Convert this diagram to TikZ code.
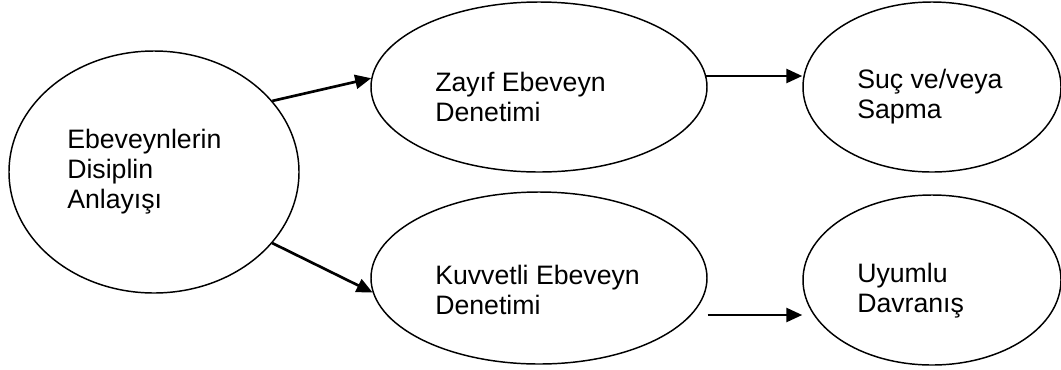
\documentclass[tikz,border=0pt]{standalone}
\usepackage{fontspec}
\setmainfont{Liberation Sans}
\usetikzlibrary{shapes.geometric,arrows.meta,calc}
\begin{document}
\begin{tikzpicture}[x = 0.75pt, y = -0.75pt,
    oval/.style = {ellipse, draw, line width = 1.1pt, inner sep = 0},
    txt/.style = {anchor = west, align = left, inner sep = 0, font = \fontsize{20}{22.5}\selectfont},
    arr/.style = {-{Triangle[length = 12pt, width = 10.5pt]}, line width = 2pt}]

        \useasboundingbox (0, 0) rectangle (1061, 369);

        \node (dis) at (154, 172) [oval, minimum width = 217.5pt, minimum height = 181.5pt] {};
        \node (zay) at (539, 87) [oval, minimum width = 252pt, minimum height = 127.5pt] {};
        \node (suc) at (932, 87) [oval, minimum width = 193.5pt, minimum height = 127.5pt] {};
        \node (kuv) at (539, 278) [oval, minimum width = 252pt, minimum height = 129pt] {};
        \node (uyu) at (932, 280) [oval, minimum width = 193.5pt, minimum height = 127.5pt] {};

        \node (dist) at (67, 172) [txt] {Ebeveynlerin\\Disiplin\\Anlayışı};
        \node (zayt) at (435, 97) [txt] {Zayıf Ebeveyn\\Denetimi};
        \node (suct) at (857, 97) [txt] {Suç ve/veya\\Sapma};
        \node (kuvt) at (435, 290) [txt] {Kuvvetli Ebeveyn\\Denetimi};
        \node (uyut) at (857, 291) [txt] {Uyumlu\\Davranış};

        \draw [arr] (dis.31) -- (zay.177);
        \draw [arr] (dis.-31) -- (kuv.185);
        \draw [arr] ($(zay.east) + (-2, -11)$) -- ($(suc.west) + (0, -11)$);
        \draw [arr] ($(kuv.east) + (0, 37)$) -- ($(uyu.west) + (0, 35)$);

\end{tikzpicture}
\end{document}
